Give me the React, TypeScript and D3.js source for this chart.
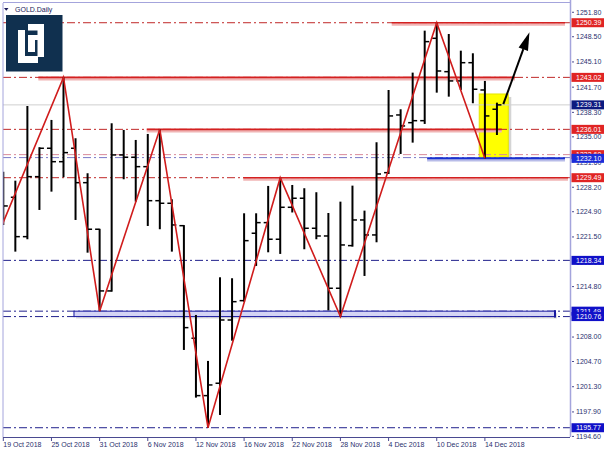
import React from 'react';
import * as d3 from 'd3';

const barDates = [
  '19 Oct 2018','22 Oct 2018','23 Oct 2018','24 Oct 2018','25 Oct 2018','26 Oct 2018','29 Oct 2018','30 Oct 2018','31 Oct 2018',
  '1 Nov 2018','2 Nov 2018','5 Nov 2018','6 Nov 2018','7 Nov 2018','8 Nov 2018','9 Nov 2018','12 Nov 2018','13 Nov 2018','14 Nov 2018',
  '15 Nov 2018','16 Nov 2018','19 Nov 2018','20 Nov 2018','21 Nov 2018','22 Nov 2018','23 Nov 2018','26 Nov 2018','27 Nov 2018',
  '28 Nov 2018','29 Nov 2018','30 Nov 2018','3 Dec 2018','4 Dec 2018','5 Dec 2018','6 Dec 2018','7 Dec 2018','10 Dec 2018',
  '11 Dec 2018','12 Dec 2018','13 Dec 2018','14 Dec 2018','17 Dec 2018'
];
const opens = [1227.8,1226.85,1221.54,1229.63,1233.46,1231.65,1233.46,1228.82,1222.54,1214.22,1232.56,1232.25,1230.98,1226.39,1226.04,1223.02,1207.84,1200.10,1201.77,1210.30,1212.91,1222.0,1223.43,1221.19,1225.50,1226.72,1222.67,1221.63,1214.58,1220.33,1223.79,1221.77,1230.17,1237.95,1236.91,1237.18,1248.29,1243.79,1242.54,1245.0,1241.32,1238.72];
const highs = [1230.30,1229.09,1239.16,1233.60,1237.28,1243.02,1234.81,1230.09,1222.60,1236.83,1235.93,1234.58,1235.39,1236.01,1226.58,1223.10,1210.98,1204.78,1216.06,1215.93,1224.69,1224.69,1228.38,1229.49,1228.51,1228.07,1227.53,1224.73,1226.26,1228.42,1225.05,1234.27,1241.32,1238.72,1243.66,1249.32,1250.39,1248.87,1246.62,1246.27,1242.54,1239.61];
const lows = [1223.12,1219.52,1221.19,1225.14,1227.61,1229.55,1223.79,1219.38,1211.49,1214.12,1229.28,1226.26,1222.98,1222.54,1219.52,1206.26,1199.83,1195.77,1197.49,1207.51,1212.77,1217.59,1219.43,1219.21,1224.80,1219.84,1221.19,1211.60,1210.76,1220.19,1216.24,1220.78,1229.99,1232.69,1234.22,1236.74,1240.96,1240.42,1241.32,1239.53,1232.10,1235.25];
const closes = [1225.68,1221.54,1229.63,1233.46,1231.65,1232.87,1228.82,1222.54,1214.22,1232.56,1232.25,1230.98,1226.39,1226.04,1223.12,1209.27,1200.10,1201.54,1210.30,1212.77,1221.00,1223.43,1221.19,1225.50,1226.72,1222.67,1221.63,1214.58,1220.42,1223.79,1221.77,1229.99,1237.82,1236.47,1237.18,1247.84,1243.88,1242.54,1245.00,1241.42,1237.82,1239.31];

const priceTicks = [1251.8,1248.5,1245.1,1241.7,1238.3,1235.0,1231.6,1228.2,1224.9,1221.5,1218.1,1214.8,1211.4,1208.0,1204.7,1201.3,1197.9,1194.6];
const dateTickIdx = [0,4,8,12,16,20,24,28,32,36,40];

const zigzagIdx = [-1,5,8,13,17,23,28,36,40];
const zigzagPrice = [1219.6,1243.02,1211.49,1236.01,1195.77,1229.49,1210.76,1250.39,1232.10];

const redLevels = [1250.39,1243.02,1236.01,1229.49];
const redSolidFrom = [32.26,2.91,11.91,19.93];
const redSolidTo = [46.65,42.5,41.4,46.9];
const pinkDashLevels = [1232.6];
const navyDashLevels = [1232.2,1218.34,1211.49,1210.76,1195.77];
const blueSolidLevel = 1232.10;
const blueSolidFrom = 35.2;
const blueSolidTo = 46.65;
const currentPrice = 1239.31;

const boxIdx = [5.87,45.82];
const boxPrice = [1211.49,1210.76];
const yellowIdx = [39.53,41.94];
const yellowPrice = [1240.78,1232.25];
const arrowIdx = [41.53,43.7];
const arrowPrice = [1239.4,1249.1];

const markerPrices = [1232.6,1232.10,1250.39,1243.02,1236.01,1229.49,1239.31,1218.34,1211.49,1210.76,1195.77];
const markerColors = ['#e02424','#1c2cd8','#e02424','#e02424','#e02424','#e02424','#0b1a80','#1010c8','#1010c8','#1010c8','#1010c8'];

const W = 604, H = 451;
const L = 3, R = 570, T = 3, B = 437;
const FONT = '"Liberation Sans", Arial, sans-serif';
const DASH = '8,3,2,3';

export default function App() {
  const x = d3.scaleLinear().domain([0, 41]).range([3.3, 3.3 + 12.04 * 41]);
  const y = d3.scaleLinear().domain([1194.52, 1253.05]).range([B, T]);
  const zz = d3.line<number>().x((_, i) => x(zigzagIdx[i])).y((p) => y(p));

  const sx = x(arrowIdx[0]), sy = y(arrowPrice[0]);
  const tx = x(arrowIdx[1]), ty = y(arrowPrice[1]);
  const len = Math.hypot(tx - sx, ty - sy);
  const ux = (tx - sx) / len, uy = (ty - sy) / len;
  const bx = tx - ux * 18, by = ty - uy * 18;
  const nx = -uy, ny = ux;

  return (
    <svg width={W} height={H} style={{ position: 'absolute', left: 0, top: 0, background: '#fff' }} fontFamily={FONT}>
      <defs>
        <clipPath id="plot"><rect x={L} y={T} width={R - L} height={B - T} /></clipPath>
      </defs>
      <rect x={0} y={0} width={W} height={H} fill="#fff" />
      <g clipPath="url(#plot)">
        {/* yellow box */}
        <rect x={x(yellowIdx[0]) + 3} y={y(yellowPrice[0]) + 3} width={x(yellowIdx[1]) - x(yellowIdx[0])} height={y(yellowPrice[1]) - y(yellowPrice[0])} fill="#b8b8b8" opacity={0.6} />
        <rect x={x(yellowIdx[0])} y={y(yellowPrice[0])} width={x(yellowIdx[1]) - x(yellowIdx[0])} height={y(yellowPrice[1]) - y(yellowPrice[0])} fill="#ffff00" stroke="#e4e400" />
        {/* current price line */}
        <line x1={L} x2={R} y1={y(currentPrice)} y2={y(currentPrice)} stroke="#cfcfcf" strokeWidth={1} />
        {redLevels.map((v, i) => (
          <line key={'rd' + i} x1={L} x2={R} y1={y(v)} y2={y(v)} stroke="#c02828" strokeWidth={1} strokeDasharray={DASH} />
        ))}
        {pinkDashLevels.map((v, i) => (
          <line key={'pd' + i} x1={L} x2={R} y1={y(v)} y2={y(v)} stroke="#d88a9a" strokeWidth={1} strokeDasharray={DASH} />
        ))}
        {navyDashLevels.map((v, i) => (
          <line key={'nd' + i} x1={L} x2={R} y1={y(v)} y2={y(v)} stroke={i === 0 ? '#7a7ac8' : '#20208c'} strokeWidth={1} strokeDasharray={DASH} />
        ))}
        {/* blue box */}
        <rect x={x(boxIdx[0]) + 2} y={y(boxPrice[0]) + 2} width={x(boxIdx[1]) - x(boxIdx[0])} height={y(boxPrice[1]) - y(boxPrice[0])} fill="#c8c8c8" opacity={0.6} />
        <rect x={x(boxIdx[0])} y={y(boxPrice[0])} width={x(boxIdx[1]) - x(boxIdx[0])} height={y(boxPrice[1]) - y(boxPrice[0])} fill="#d4d4f4" stroke="#1818a0" strokeWidth={1} />
        <line x1={x(boxIdx[1])} x2={x(boxIdx[1])} y1={y(boxPrice[0]) - 1} y2={y(boxPrice[1]) + 1} stroke="#1818a0" strokeWidth={2} />
        {/* red solid levels */}
        {redLevels.map((v, i) => (
          <g key={'rs' + i}>
            <line x1={x(redSolidFrom[i])} x2={x(redSolidTo[i])} y1={y(v) + 1.8} y2={y(v) + 1.8} stroke="#f0b4b4" strokeWidth={2.5} />
            <line x1={x(redSolidFrom[i])} x2={x(redSolidTo[i])} y1={y(v)} y2={y(v)} stroke="#d42020" strokeWidth={1.6} />
          </g>
        ))}
        <line x1={x(blueSolidFrom)} x2={x(blueSolidTo)} y1={y(blueSolidLevel) + 1.8} y2={y(blueSolidLevel) + 1.8} stroke="#b8bce8" strokeWidth={2.5} />
        <line x1={x(blueSolidFrom)} x2={x(blueSolidTo)} y1={y(blueSolidLevel)} y2={y(blueSolidLevel)} stroke="#1a30d0" strokeWidth={2} />
        {/* OHLC bars */}
        {barDates.map((d, i) => {
          const cx = x(i);
          return (
            <g key={d} stroke="#000">
              <line x1={cx} x2={cx} y1={y(highs[i])} y2={y(lows[i])} strokeWidth={2} />
              <line x1={cx - 4.5} x2={cx} y1={y(opens[i])} y2={y(opens[i])} strokeWidth={1.5} />
              <line x1={cx} x2={cx + 4.5} y1={y(closes[i])} y2={y(closes[i])} strokeWidth={1.5} />
            </g>
          );
        })}
        {/* zigzag */}
        <path d={zz(zigzagPrice) || ''} fill="none" stroke="#d01c1c" strokeWidth={1.6} />
        {/* arrow */}
        <line x1={sx} y1={sy} x2={bx} y2={by} stroke="#000" strokeWidth={2} />
        <polygon points={`${tx},${ty} ${bx + nx * 5},${by + ny * 5} ${bx - nx * 5},${by - ny * 5}`} fill="#000" />
      </g>
      {/* frame */}
      <line x1={L} x2={L} y1={T} y2={B} stroke="#a4a4dc" strokeWidth={1} />
      <line x1={L} x2={R} y1={T - 0.5} y2={T - 0.5} stroke="#a4a4dc" strokeWidth={1} />
      <line x1={R + 0.5} x2={R + 0.5} y1={0} y2={B} stroke="#a4a4dc" strokeWidth={1.5} />
      <line x1={L} x2={R} y1={B + 0.5} y2={B + 0.5} stroke="#4a4a90" strokeWidth={1} />
      {/* price axis */}
      {priceTicks.map((v) => (
        <g key={'pt' + v}>
          <line x1={R + 2} x2={R + 4} y1={y(v)} y2={y(v)} stroke="#4a4a90" />
          <text x={576} y={y(v)} dy="0.35em" fontSize={7} fill="#2a306e">{v.toFixed(2)}</text>
        </g>
      ))}
      {markerPrices.map((v, i) => (
        <g key={'mk' + i}>
          <rect x={R + 1.5} y={y(v) - 4.5} width={34} height={9} fill={markerColors[i]} />
          <text x={576} y={y(v)} dy="0.35em" fontSize={7} fill="#fff">{v.toFixed(2)}</text>
        </g>
      ))}
      {/* date axis */}
      {dateTickIdx.map((i) => (
        <g key={'dt' + i}>
          <line x1={x(i)} x2={x(i)} y1={B} y2={B + 4} stroke="#4a4a90" />
          <text x={x(i)} y={447} fontSize={7} fill="#2a306e">{barDates[i]}</text>
        </g>
      ))}
      {/* title */}
      <polygon points="4,8 8.5,8 6.25,10.8" fill="#1a1a5a" />
      <text x={15} y={9.5} dy="0.35em" fontSize={7} fill="#1a1a5a">GOLD.Daily</text>
      {/* logo */}
      <rect x={6} y={15} width={56.5} height={56.5} fill="#10304f" />
      <g fill="#fff">
        <rect x={18} y={30} width={7} height={33} />
        <rect x={18} y={56} width={20} height={7} />
        <rect x={28} y={24} width={16} height={6.5} />
        <rect x={37.5} y={24} width={6.5} height={33} />
        <rect x={28} y={35} width={7} height={17} />
        <rect x={28} y={35} width={13} height={5} />
      </g>
    </svg>
  );
}
